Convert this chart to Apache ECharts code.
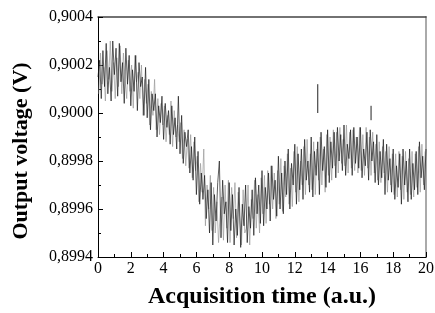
<!DOCTYPE html>
<html><head><meta charset="utf-8">
<script src="https://cdn.jsdelivr.net/npm/echarts@6/dist/echarts.min.js"></script>
<style>html,body{margin:0;padding:0;background:#fff}#c{width:435px;height:313px}</style>
</head><body><div id="c"></div>
<script>
// Acquisition time grid (a.u.)
var tStep = 0.1;
var startA = 0, startB = 0.05;
// Output voltage, black trace (V), one sample per 0.1 a.u.
var voltageA = [
0.90015,0.90022,0.90006,0.90026,0.90011,
0.90029,0.90008,0.90019,0.90005,0.90030,
0.90016,0.90027,0.90007,0.90029,0.90013,
0.90021,0.90004,0.90027,0.90012,0.90024,
0.90003,0.90018,0.90009,0.90024,0.90001,
0.90021,0.90011,0.90015,0.89999,0.90019,
0.89998,0.90014,0.89993,0.90008,0.90001,
0.90008,0.89990,0.90003,0.89996,0.90007,
0.89989,0.90004,0.89994,0.90001,0.89987,
0.90003,0.89991,0.89998,0.89985,0.90007,
0.89983,0.89999,0.89979,0.89992,0.89986,
0.89993,0.89975,0.89986,0.89972,0.89990,
0.89966,0.89984,0.89962,0.89975,0.89964,
0.89974,0.89956,0.89968,0.89950,0.89971,
0.89945,0.89966,0.89955,0.89971,0.89980,
0.89948,0.89972,0.89958,0.89963,0.89946,
0.89971,0.89951,0.89966,0.89945,0.89960,
0.89949,0.89969,0.89944,0.89962,0.89953,
0.89970,0.89946,0.89961,0.89952,0.89968,
0.89949,0.89973,0.89958,0.89970,0.89954,
0.89976,0.89953,0.89969,0.89960,0.89975,
0.89955,0.89978,0.89964,0.89972,0.89957,
0.89982,0.89960,0.89975,0.89958,0.89980,
0.89966,0.89985,0.89960,0.89979,0.89970,
0.89987,0.89962,0.89983,0.89968,0.89985,
0.89964,0.89989,0.89972,0.89980,0.89967,
0.89990,0.89965,0.89984,0.89974,0.89988,
0.89966,0.89992,0.89976,0.89986,0.89969,
0.89993,0.89971,0.89988,0.89977,0.89992,
0.89973,0.89994,0.89980,0.89991,0.89976,
0.89995,0.89974,0.89987,0.89981,0.89993,
0.89974,0.89994,0.89979,0.89990,0.89977,
0.89994,0.89973,0.89985,0.89978,0.89992,
0.89972,0.89993,0.89980,0.89988,0.89971,
0.89991,0.89970,0.89984,0.89973,0.89989,
0.89966,0.89987,0.89972,0.89981,0.89967,
0.89985,0.89964,0.89978,0.89969,0.89983,
0.89962,0.89985,0.89970,0.89980,0.89963,
0.89985,0.89964,0.89979,0.89968,0.89984,
0.89966,0.89988,0.89973,0.89982,0.89968,
0.89985
];
// Output voltage, grey trace (V), offset by half a step
var voltageB = [
0.90008,0.90025,0.90012,0.90019,0.90005,
0.90026,0.90014,0.90030,0.90009,0.90021,
0.90006,0.90023,0.90011,0.90028,0.90008,
0.90025,0.90014,0.90006,0.90022,0.90009,
0.90020,0.90002,0.90024,0.90013,0.90017,
0.90006,0.90020,0.89999,0.90014,0.90004,
0.90012,0.89995,0.90009,0.89999,0.90014,
0.89993,0.90006,0.89991,0.90004,0.89995,
0.90003,0.89988,0.89999,0.89991,0.90005,
0.89986,0.90001,0.89990,0.89995,0.89988,
0.89996,0.89981,0.89993,0.89978,0.89989,
0.89977,0.89991,0.89973,0.89988,0.89976,
0.89982,0.89963,0.89979,0.89967,0.89985,
0.89953,0.89970,0.89960,0.89974,0.89951,
0.89969,0.89950,0.89963,0.89946,0.89958,
0.89965,0.89947,0.89970,0.89952,0.89972,
0.89946,0.89969,0.89956,0.89971,0.89948,
0.89967,0.89955,0.89945,0.89968,0.89950,
0.89952,0.89970,0.89945,0.89964,0.89956,
0.89972,0.89952,0.89966,0.89950,0.89973,
0.89958,0.89974,0.89954,0.89976,0.89962,
0.89978,0.89960,0.89975,0.89956,0.89976,
0.89962,0.89981,0.89959,0.89978,0.89965,
0.89983,0.89962,0.89977,0.89961,0.89984,
0.89967,0.89986,0.89963,0.89980,0.89970,
0.89986,0.89966,0.89989,0.89970,0.89983,
0.89968,0.89988,0.89966,0.89985,0.89972,
0.89990,0.89970,0.89985,0.89967,0.89991,
0.89974,0.89990,0.89972,0.89993,0.89978,
0.89992,0.89975,0.89994,0.89979,0.89989,
0.89978,0.89995,0.89975,0.89992,0.89977,
0.89993,0.89976,0.89990,0.89975,0.89994,
0.89976,0.89991,0.89974,0.89994,0.89977,
0.89990,0.89974,0.89992,0.89975,0.89987,
0.89972,0.89988,0.89971,0.89986,0.89975,
0.89984,0.89967,0.89986,0.89970,0.89983,
0.89966,0.89983,0.89965,0.89984,0.89968,
0.89982,0.89964,0.89984,0.89967,0.89981,
0.89966,0.89984,0.89965,0.89983,0.89969,
0.89986,0.89967,0.89987,0.89970,0.89984
];
// Isolated spikes: time and voltage endpoints
var spikeTimes = [13.4, 16.65];
var spikeTop = [0.90012, 0.90003];
var spikeBottom = [0.90000, 0.89997];
// Axis ticks
var xTicks = [0, 2, 4, 6, 8, 10, 12, 14, 16, 18, 20];
var yTicks = [0.8994, 0.8996, 0.8998, 0.9000, 0.9002, 0.9004];

function toPairs(arr, start) {
  return arr.map(function (v, i) { return [+(start + i * tStep).toFixed(3), v]; });
}
var spikeData = [];
spikeTimes.forEach(function (t, i) {
  if (i > 0) spikeData.push([t, '-']);
  spikeData.push([t, spikeTop[i]]);
  spikeData.push([t, spikeBottom[i]]);
});

var serif = '"Liberation Serif", "DejaVu Serif", serif';
var chart = echarts.init(document.getElementById('c'));
chart.setOption({
  animation: false,
  grid: { left: 98, right: 9, top: 17, bottom: 56, outerBoundsMode: 'none', containLabel: false },
  xAxis: [{
    type: 'value', min: xTicks[0], max: xTicks[xTicks.length - 1], interval: 2,
    name: 'Acquisition time (a.u.)', nameLocation: 'middle', nameGap: 28,
    nameTextStyle: { fontFamily: serif, fontWeight: 'bold', fontSize: 24, color: '#000' },
    axisLine: { show: true, onZero: false, lineStyle: { color: '#000', width: 1 } },
    axisTick: { show: true, inside: true, length: 5, lineStyle: { color: '#000' } },
    minorTick: { show: true, splitNumber: 2, length: 3, lineStyle: { color: '#000' } },
    axisLabel: { fontFamily: serif, fontSize: 16, color: '#000', margin: 4 },
    splitLine: { show: false }
  }, {
    type: 'value', position: 'top', min: 0, max: 20,
    axisLine: { show: true, onZero: false, lineStyle: { color: '#444', width: 1.5 } },
    axisTick: { show: false }, axisLabel: { show: false }, splitLine: { show: false }
  }],
  yAxis: [{
    type: 'value', min: yTicks[0], max: yTicks[yTicks.length - 1], interval: 0.0002,
    name: 'Output voltage (V)', nameLocation: 'middle', nameGap: 66,
    nameTextStyle: { fontFamily: serif, fontWeight: 'bold', fontSize: 22, color: '#000', padding: [0, 28, 0, 0] },
    axisLine: { show: true, onZero: false, lineStyle: { color: '#000', width: 1 } },
    axisTick: { show: true, inside: true, length: 5, lineStyle: { color: '#000' } },
    minorTick: { show: true, splitNumber: 2, length: 3, lineStyle: { color: '#000' } },
    axisLabel: { fontFamily: serif, fontSize: 16, color: '#000', margin: 5,
      formatter: function (v) { return v.toFixed(4).replace('.', ','); } },
    splitLine: { show: false }
  }, {
    type: 'value', position: 'right', min: yTicks[0], max: yTicks[yTicks.length - 1],
    axisLine: { show: true, onZero: false, lineStyle: { color: '#aaa', width: 2 } },
    axisTick: { show: false }, axisLabel: { show: false }, splitLine: { show: false }
  }],
  series: [{
    type: 'line', data: toPairs(voltageB, startB), showSymbol: false, symbol: 'none',
    lineStyle: { color: '#999', width: 0.7 }
  }, {
    type: 'line', data: toPairs(voltageA, startA), showSymbol: false, symbol: 'none',
    lineStyle: { color: '#1a1a1a', width: 0.7 }
  }, {
    type: 'line', data: spikeData, showSymbol: false, symbol: 'none', connectNulls: false,
    lineStyle: { color: '#222', width: 1 }
  }]
});
</script></body></html>
